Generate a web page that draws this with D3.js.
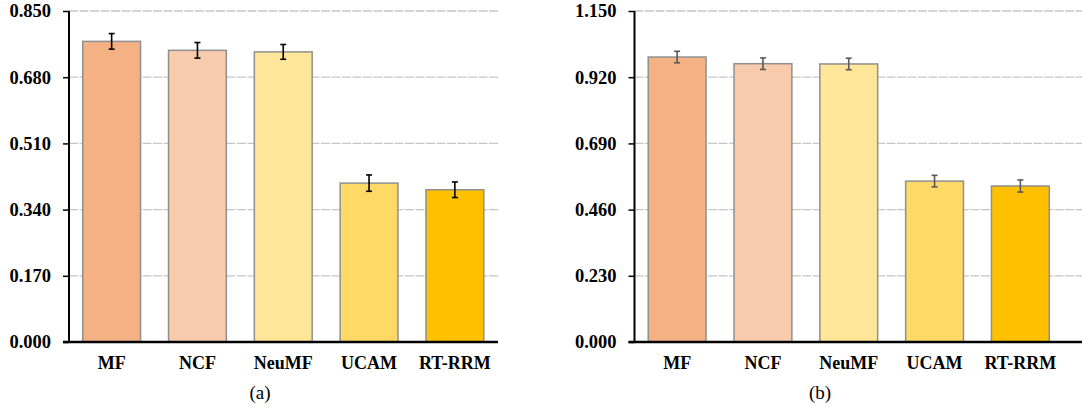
<!DOCTYPE html>
<html lang="en">
<head>
    <meta charset="UTF-8">
    <title>Bar charts with error bars</title>
    <script src="https://d3js.org/d3.v7.min.js"></script>
    <style>
        body { margin: 0; background: #fff; }
        svg { display: block; }
        svg text { font-family: "Times New Roman", "Liberation Serif", "DejaVu Serif", serif; }
    </style>
</head>
<body>
    <svg id="chart" width="1082" height="407"></svg>

    <script>
        const methods = ["MF", "NCF", "NeuMF", "UCAM", "RT-RRM"];
        const barColors = ["#F4B183", "#F8CBAD", "#FFE699", "#FFD966", "#FFC000"];

        // panel (a)
        const valuesA = [0.772, 0.749, 0.745, 0.408, 0.391];
        const errorsA = [0.020, 0.020, 0.019, 0.021, 0.020];
        const ticksA = [0.000, 0.170, 0.340, 0.510, 0.680, 0.850];

        // panel (b)
        const valuesB = [0.990, 0.967, 0.966, 0.559, 0.542];
        const errorsB = [0.020, 0.020, 0.020, 0.020, 0.021];
        const ticksB = [0.000, 0.230, 0.460, 0.690, 0.920, 1.150];

        const svg = d3.select("#chart");
        const plotTop = 11, plotBottom = 342;

        function drawPanel(opt) {
            const g = svg.append("g");

            const x = d3.scaleBand()
                .domain(methods)
                .range([opt.left, opt.left + 428.5])
                .paddingInner(0.326)
                .paddingOuter(0.16);

            const y = d3.scaleLinear()
                .domain([0, d3.max(opt.ticks)])
                .range([plotBottom, plotTop]);

            // gridlines
            g.selectAll(".grid")
                .data(opt.ticks.slice(1))
                .enter().append("line")
                .attr("x1", opt.left)
                .attr("x2", opt.gridEnd)
                .attr("y1", d => y(d))
                .attr("y2", d => y(d))
                .attr("stroke", "#c6c6c6")
                .attr("stroke-width", 1.3)
                .attr("stroke-dasharray", "9,1.5");

            // bars
            g.selectAll(".bar")
                .data(methods)
                .enter().append("rect")
                .attr("x", d => x(d))
                .attr("width", x.bandwidth())
                .attr("y", (d, i) => y(opt.values[i]))
                .attr("height", (d, i) => plotBottom - y(opt.values[i]))
                .attr("fill", (d, i) => barColors[i])
                .attr("stroke", "#8f8f8f")
                .attr("stroke-width", 1.5);

            // error bars
            const eb = g.selectAll(".err")
                .data(methods)
                .enter().append("g")
                .attr("stroke", opt.errColor)
                .attr("stroke-width", 1.6);

            const cx = d => x(d) + x.bandwidth() / 2;
            eb.append("line")
                .attr("x1", cx).attr("x2", cx)
                .attr("y1", (d, i) => y(opt.values[i] + opt.errors[i]))
                .attr("y2", (d, i) => y(opt.values[i] - opt.errors[i]));
            eb.append("line")
                .attr("x1", d => cx(d) - 3).attr("x2", d => cx(d) + 3)
                .attr("y1", (d, i) => y(opt.values[i] + opt.errors[i]))
                .attr("y2", (d, i) => y(opt.values[i] + opt.errors[i]));
            eb.append("line")
                .attr("x1", d => cx(d) - 3).attr("x2", d => cx(d) + 3)
                .attr("y1", (d, i) => y(opt.values[i] - opt.errors[i]))
                .attr("y2", (d, i) => y(opt.values[i] - opt.errors[i]));

            // y axis
            const yAxis = g.append("g")
                .attr("transform", `translate(${opt.left},0)`)
                .call(d3.axisLeft(y).tickValues(opt.ticks).tickFormat(d3.format(".3f")).tickSize(6).tickPadding(12));
            yAxis.attr("font-family", null).attr("font-size", null);
            yAxis.select(".domain").attr("stroke", "#000").attr("stroke-width", 2)
                .attr("d", `M0,${plotTop}V${plotBottom}`);
            yAxis.selectAll(".tick line").attr("stroke", "#000").attr("stroke-width", 1.5);
            yAxis.selectAll(".tick text")
                .attr("font-size", 18.5)
                .attr("font-weight", "bold")
                .attr("fill", "#000");

            // x axis baseline
            g.append("line")
                .attr("x1", opt.left - 6)
                .attr("x2", opt.gridEnd)
                .attr("y1", plotBottom)
                .attr("y2", plotBottom)
                .attr("stroke", "#000")
                .attr("stroke-width", 2.5);

            // category labels
            g.selectAll(".cat")
                .data(methods)
                .enter().append("text")
                .attr("x", d => cx(d))
                .attr("y", 369)
                .attr("text-anchor", "middle")
                .attr("font-size", 18)
                .attr("font-weight", "bold")
                .text(d => d);

            // panel caption
            g.append("text")
                .attr("x", opt.captionX)
                .attr("y", 399)
                .attr("text-anchor", "middle")
                .attr("font-size", 19)
                .text(opt.caption);
        }

        drawPanel({
            left: 69, gridEnd: 498, values: valuesA, errors: errorsA,
            ticks: ticksA, errColor: "#000", caption: "(a)", captionX: 260
        });
        drawPanel({
            left: 634.5, gridEnd: 1082, values: valuesB, errors: errorsB,
            ticks: ticksB, errColor: "#595959", caption: "(b)", captionX: 820
        });
    </script>
</body>
</html>
